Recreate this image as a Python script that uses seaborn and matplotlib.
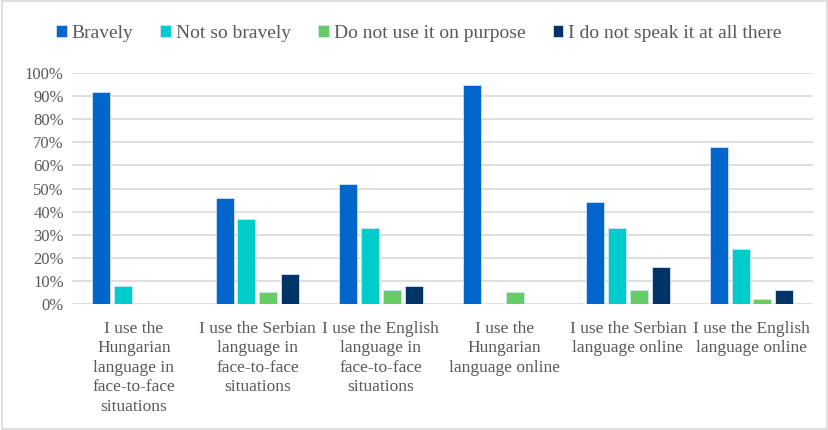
import matplotlib
matplotlib.use('Agg')

import numpy as np
import pandas as pd
import seaborn as sns
import matplotlib.pyplot as plt
from matplotlib.patches import Rectangle
from matplotlib.ticker import PercentFormatter

# Categories (wrapped as in the original chart)
categories = [
    "I use the\nHungarian\nlanguage in\nface-to-face\nsituations",
    "I use the Serbian\nlanguage in\nface-to-face\nsituations",
    "I use the English\nlanguage in\nface-to-face\nsituations",
    "I use the\nHungarian\nlanguage online",
    "I use the Serbian\nlanguage online",
    "I use the English\nlanguage online",
]
series_names = ["Bravely", "Not so bravely", "Do not use it on purpose",
                "I do not speak it at all there"]
bravely = [0.92, 0.46, 0.52, 0.95, 0.44, 0.68]
not_so_bravely = [0.08, 0.37, 0.33, 0.0, 0.33, 0.24]
not_on_purpose = [0.0, 0.05, 0.06, 0.05, 0.06, 0.02]
not_at_all = [0.0, 0.13, 0.08, 0.0, 0.16, 0.06]
colors = ["#0066CC", "#00CCCC", "#66CC66", "#003366"]

rows = []
for name, vals in zip(series_names, [bravely, not_so_bravely, not_on_purpose, not_at_all]):
    for cat, v in zip(categories, vals):
        rows.append({"category": cat, "series": name, "value": v})
df = pd.DataFrame(rows)

sns.set_style("white")
plt.rcParams['font.family'] = ['Liberation Serif', 'DejaVu Serif']

fig = plt.figure(figsize=(8.29, 4.30), dpi=100)
ax = fig.add_axes([0.087, 0.293, 0.894, 0.537])

sns.barplot(data=df, x="category", y="value", hue="series", order=categories,
            hue_order=series_names, palette=colors, saturation=1, width=0.71, gap=0.18,
            edgecolor="#CFE3FA", linewidth=0.6, ax=ax, zorder=3)

text_color = "#595959"
ax.set_ylim(0, 1.0)
ax.set_yticks(np.arange(0, 1.01, 0.1))
ax.yaxis.set_major_formatter(PercentFormatter(1.0, decimals=0))
ax.grid(axis="y", color="#D9D9D9", linewidth=1.2, zorder=0)
ax.set_axisbelow(True)
for s in ["top", "right", "left", "bottom"]:
    ax.spines[s].set_visible(False)
ax.set_xlabel("")
ax.set_ylabel("")
ax.tick_params(axis="y", length=0, labelsize=12, labelcolor=text_color, pad=6)
ax.tick_params(axis="x", length=0, labelsize=12.5, labelcolor=text_color, pad=12)
for lbl in ax.get_xticklabels():
    lbl.set_linespacing(1.3)
ax.set_xlim(-0.5, len(categories) - 0.5)

handles, labels = ax.get_legend_handles_labels()
ax.legend_.remove()
fig.legend(handles, labels, loc="center", bbox_to_anchor=(0.505, 0.922), ncol=4,
           frameon=False, fontsize=14, handlelength=0.55, handleheight=0.55,
           handletextpad=0.25, columnspacing=1.4, labelcolor=text_color)

fig.patches.append(Rectangle((0.002, 0.002), 0.996, 0.996, transform=fig.transFigure,
                             fill=False, edgecolor="#D9D9D9", linewidth=1.2))

fig.savefig("out.png", dpi=100)
plt.close(fig)
